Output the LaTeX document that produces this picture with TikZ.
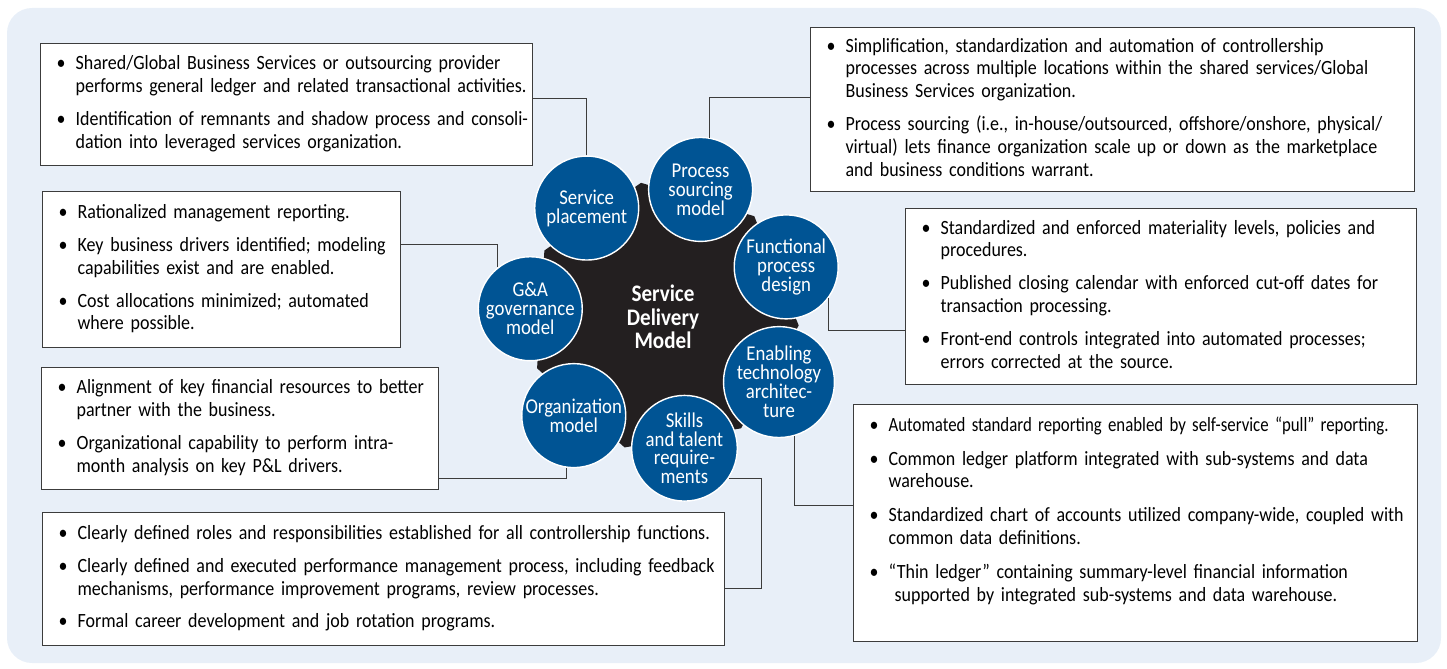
\documentclass[tikz,border=0pt]{standalone}
\usepackage{fontspec}
\usepackage{graphicx}
\setmainfont[FakeStretch=0.89]{Carlito}
\usetikzlibrary{positioning,shapes.geometric}
\definecolor{sdBlue}{RGB}{0,84,148}
\definecolor{sdPale}{RGB}{232,239,248}
\definecolor{sdCore}{RGB}{35,31,32}
\definecolor{sdLine}{RGB}{60,60,60}

\newcommand{\boxfont}{\fontsize{11.5}{13}\selectfont}
\newcommand{\spokefont}{\fontsize{12}{10.8}\selectfont\lineskiplimit=-20pt}
\newcommand{\hubfont}{\fontsize{13.5}{13.3}\selectfont\bfseries\lineskiplimit=-20pt}
\newcommand{\bl}{\textbullet}
\newenvironment{blist}{\noindent\begin{tabular}{@{}p{0.38cm}@{}l@{}}}{\end{tabular}}

\begin{document}
\begin{tikzpicture}[
    x=0.02cm, y=-0.02cm,
    % Textboxen mit Aufzaehlung
    infobox/.style={
        draw=sdLine,
        fill=white,
        line width=0.7pt,
        anchor=north west,
        align=left,
        inner xsep=0.32cm,
        inner ysep=0pt,
        font=\boxfont
    },
    % dunkles Siebeneck in der Mitte
    hub/.style={
        regular polygon,
        regular polygon sides=7,
        shape border rotate=9.3,
        fill=sdCore,
        minimum size=5.44cm,
        inner sep=0pt,
        text=white,
        align=center,
        font=\hubfont
    },
    % blaue Kreise rundherum
    spoke/.style={
        circle,
        fill=sdBlue,
        draw=white,
        line width=0.8pt,
        minimum size=2.08cm,
        inner sep=0pt,
        text=white,
        align=center,
        font=\spokefont
    },
    % Verbindungslinien
    link/.style={
        draw=sdLine,
        line width=0.6pt
    }
]
    \useasboundingbox (0,0) rectangle (1447,669);

    % --- 1. Hintergrund ---
    \fill[sdPale, rounded corners=0.5cm] (7,8) rectangle (1441,663);

    % --- 2. Mitte und Kreise ---
    \node[hub] (core) at (663,317) {Service\\Delivery\\Model};

    \path (core) ++(-125:133) node[spoke] (placement) {Service\\placement};
    \path (core) ++(-73.57:133) node[spoke] (sourcing) {Process\\sourcing\\model};
    \path (core) ++(-22.14:133) node[spoke] (functional) {Functional\\process\\design};
    \path (core) ++(29.29:133) node[spoke] (enabling) {Enabling\\technology\\architec-\\ture};
    \path (core) ++(80.71:133) node[spoke] (skills) {Skills\\and talent\\require-\\ments};
    \path (core) ++(132.14:133) node[spoke] (orgmodel) {Organization\\model};
    \path (core) ++(183.57:133) node[spoke] (governance) {G\&A\\governance\\model};

    % --- 3. Textboxen ---
    \node[infobox, text width=9.2cm, minimum height=2.44cm] (box1) at (40,43) {\begin{blist}
        \bl & Shared/Global Business Services or outsourcing provider\\
            & performs general ledger and related transactional activities.\\[0.2cm]
        \bl & Identification of remnants and shadow process and consoli-\\
            & dation into leveraged services organization.
    \end{blist}};

    \node[infobox, text width=11.44cm, minimum height=3.28cm] (box2) at (810,27) {\begin{blist}
        \bl & Simplification, standardization and automation of controllership\\
            & processes across multiple locations within the shared services/Global\\
            & Business Services organization.\\[0.2cm]
        \bl & Process sourcing (i.e., in-house/outsourced, offshore/onshore, physical/\\
            & virtual) lets finance organization scale up or down as the marketplace\\
            & and business conditions warrant.
    \end{blist}};

    \node[infobox, text width=6.52cm, minimum height=3.12cm] (box3) at (42,191) {\begin{blist}
        \bl & Rationalized management reporting.\\[0.2cm]
        \bl & Key business drivers identified; modeling\\
            & capabilities exist and are enabled.\\[0.2cm]
        \bl & Cost allocations minimized; automated\\
            & where possible.
    \end{blist}};

    \node[infobox, text width=9.58cm, minimum height=3.52cm] (box4) at (905,208) {\begin{blist}
        \bl & Standardized and enforced materiality levels, policies and\\
            & procedures.\\[0.2cm]
        \bl & Published closing calendar with enforced cut-off dates for\\
            & transaction processing.\\[0.2cm]
        \bl & Front-end controls integrated into automated processes;\\
            & errors corrected at the source.
    \end{blist}};

    \node[infobox, text width=7.3cm, minimum height=2.44cm] (box5) at (41,367) {\begin{blist}
        \bl & Alignment of key financial resources to better\\
            & partner with the business.\\[0.2cm]
        \bl & Organizational capability to perform intra-\\
            & month analysis on key P\&L drivers.
    \end{blist}};

    \node[infobox, text width=13cm, minimum height=2.66cm] (box6) at (42,512) {\begin{blist}
        \bl & Clearly defined roles and responsibilities established for all controllership functions.\\[0.2cm]
        \bl & Clearly defined and executed performance management process, including feedback\\
            & mechanisms, performance improvement programs, review processes.\\[0.2cm]
        \bl & Formal career development and job rotation programs.
    \end{blist}};

    \node[infobox, text width=10.64cm, minimum height=4.74cm] (box7) at (853,404) {\begin{blist}
        \bl & \scalebox{0.935}[1]{Automated standard reporting enabled by self-service “pull” reporting.}\\[0.22cm]
        \bl & Common ledger platform integrated with sub-systems and data\\
            & warehouse.\\[0.22cm]
        \bl & Standardized chart of accounts utilized company-wide, coupled with\\
            & common data definitions.\\[0.22cm]
        \bl & “Thin ledger” containing summary-level financial information\\
            & \hspace{0.12cm}supported by integrated sub-systems and data warehouse.\\
            &
    \end{blist}};

    % --- 4. Verbindungen ---
    \draw[link] (placement.north) |- ([yshift=0.12cm]box1.east);
    \draw[link] (sourcing.80) |- ([yshift=0.24cm]box2.west);
    \draw[link] (governance.128) |- ([yshift=0.5cm]box3.east);
    \draw[link] (functional.-36) |- ([yshift=-0.68cm]box4.west);
    \draw[link] (orgmodel.-98) |- ([yshift=-1cm]box5.east);
    \draw[link] (skills.-34) -- ++(33,0) |- ([yshift=-0.19cm]box6.east);
    \draw[link] (enabling.-74) |- ([yshift=0.35cm]box7.west);

\end{tikzpicture}
\end{document}
